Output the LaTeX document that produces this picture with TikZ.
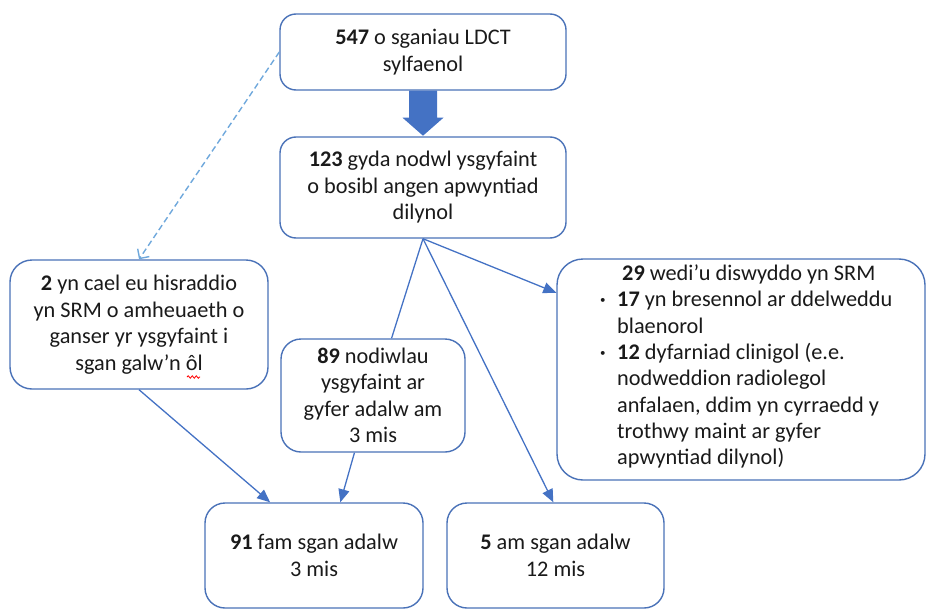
\documentclass[tikz,border=0pt]{standalone}
\usepackage{fontspec}
\setmainfont{Carlito}
\usetikzlibrary{arrows.meta,calc,decorations.pathmorphing}
\definecolor{boxc}{HTML}{4A72B8}
\definecolor{linec}{HTML}{4472C4}
\definecolor{dashc}{HTML}{6FA8DC}
\definecolor{txtc}{HTML}{1A1A1A}
\newcommand{\smallbul}{\hspace{3pt}\raisebox{3pt}{\fontsize{11}{11}\selectfont\textbullet}}
\begin{document}
\begin{tikzpicture}[x=1pt,y=-1pt,
  box/.style={draw=boxc, line width=1.4pt, rounded corners=16pt, fill=white,
    inner sep=0pt, align=center, text=txtc, font=\fontsize{22.3}{26.5}\selectfont},
  conn/.style={draw=linec, line width=1.3pt},
  arr/.style={conn, -{Triangle[length=13pt,width=11pt]}},
  dashconn/.style={draw=dashc, line width=1.4pt, dash pattern=on 6pt off 3.5pt,
    -{Straight Barb[length=7pt,width=14pt]}},
  bigarrow/.style={fill=linec}
]
\useasboundingbox (0,0) rectangle (926,610);

\node[box, minimum width=286, minimum height=76] (a) at (423,52)
  {\textbf{547} o sganiau LDCT\\sylfaenol};
\node[box, minimum width=286, minimum height=101] (b) at (423,187.5)
  {\textbf{123} gyda nodwl ysgyfaint\\o bosibl angen apwyntiad\\dilynol};
\node[box, minimum width=258, minimum height=129, rounded corners=22pt] (c) at (139,324.5)
  {\textbf{2} yn cael eu hisraddio\\yn SRM o amheuaeth o\\ganser yr ysgyfaint i\\sgan galw'n ôl};
\node[box, minimum width=368, minimum height=221, rounded corners=26pt] (d) at (741,369.5) {};
\node[box, minimum width=184, minimum height=113, rounded corners=20pt] (e) at (373,395.5)
  {\textbf{89} nodiwlau\\ysgyfaint ar\\gyfer adalw am\\3 mis};
\node[box, minimum width=218, minimum height=105, rounded corners=20pt] (f) at (314,555.5)
  {\textbf{91} fam sgan adalw\\3 mis};
\node[box, minimum width=217, minimum height=105, rounded corners=20pt] (g) at (555.5,555.5)
  {\textbf{5} am sgan adalw\\12 mis};

\node[anchor=north west, inner sep=0pt, text=txtc, align=left,
  font=\fontsize{22.3}{26.3}\selectfont] (dt) at (597,262)
  {\begin{tabular}{@{}p{20pt}@{}l@{}}
   \multicolumn{2}{@{}l@{}}{\hspace{25pt}\textbf{29} wedi'u diswyddo yn SRM}\\
   \smallbul & \textbf{17} yn bresennol ar ddelweddu\\
   & blaenorol\\
   \smallbul & \textbf{12} dyfarniad clinigol (e.e.\\
   & nodweddion radiolegol\\
   & anfalaen, ddim yn cyrraedd y\\
   & trothwy maint ar gyfer\\
   & apwyntiad dilynol)
   \end{tabular}};

% big block arrow
\fill[bigarrow] ($(a.south)+(-14,0)$) -- ($(a.south)+(14,0)$) -- ($(a.south)+(14,27)$)
  -- ($(a.south)+(20.5,27)$) -- ($(a.south)+(0,45)$) -- ($(a.south)+(-20.5,27)$)
  -- ($(a.south)+(-14,27)$) -- cycle;

% connectors
\draw[dashconn] (a.west) -- (c.north);
\draw[conn] (b.south) -- ($(e.north west)!0.6!(e.north east)$);
\draw[arr] (b.south) -- ($(d.north west)!0.155!(d.south west)$);
\draw[arr] (b.south) -- ($(g.north west)!0.49!(g.north east)$);
\draw[arr] (c.south) -- ($(f.north west)!0.3!(f.north east)$);
\draw[arr] ($(e.south west)!0.4!(e.south east)$) -- ($(f.north west)!0.62!(f.north east)$);

% spell-check squiggle
\draw[red, line width=0.8pt, decorate, decoration={snake, amplitude=1.2pt, segment length=4pt}]
  (187,377) -- (200,377);
\end{tikzpicture}
\end{document}
